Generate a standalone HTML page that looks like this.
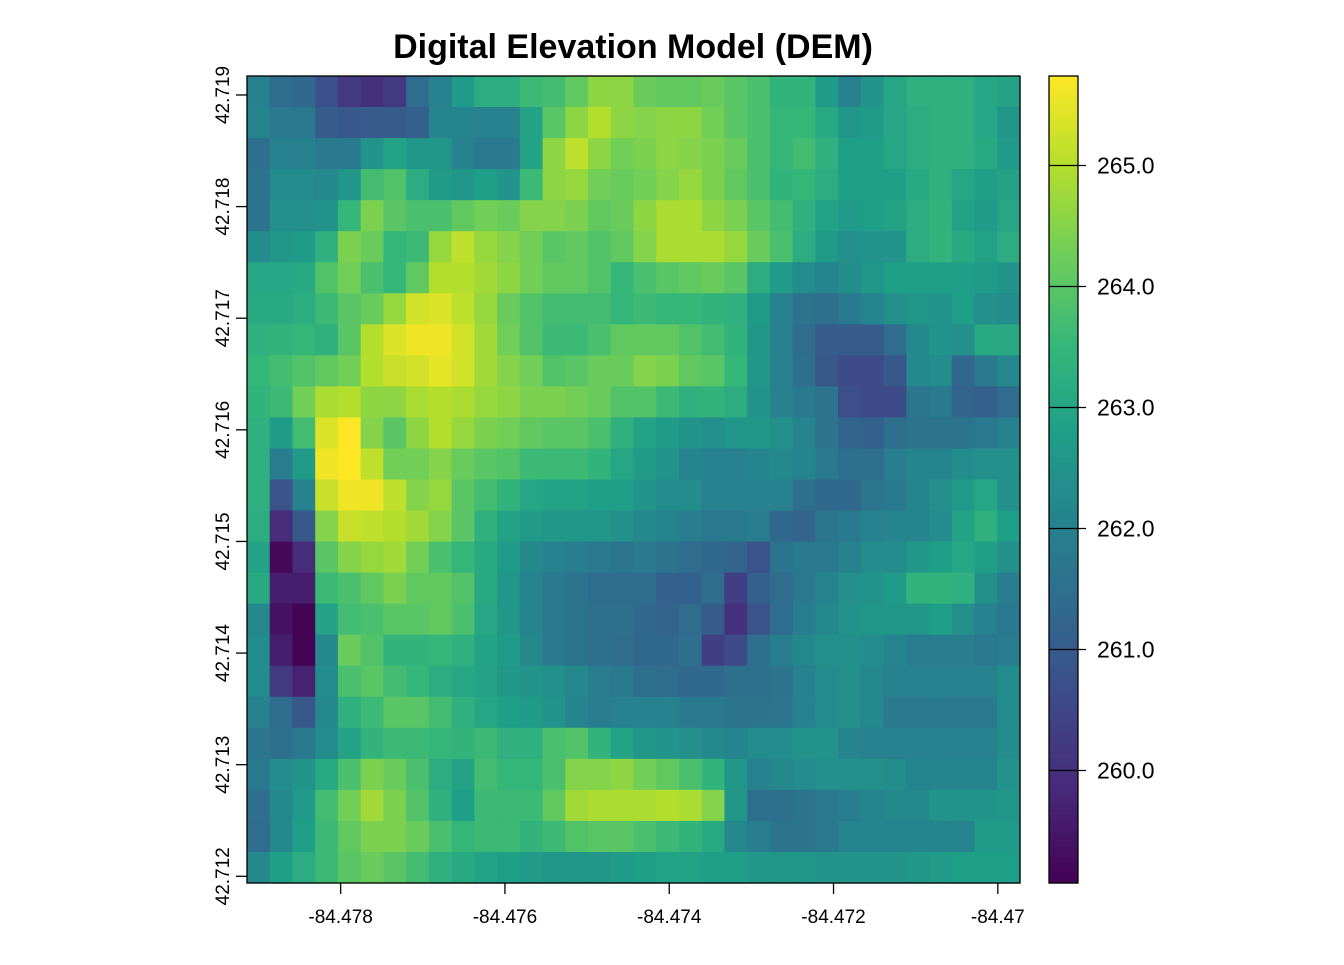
<!DOCTYPE html>
<html><head><meta charset="utf-8"><style>
body{margin:0;background:#fff;font-family:"Liberation Sans",Arial,sans-serif}
svg text{font-family:"Liberation Sans",Arial,sans-serif}
</style></head><body>
<svg id="chart" width="1344" height="960" xmlns="http://www.w3.org/2000/svg">
<rect width="1344" height="960" fill="#fff"/>
<text x="633" y="58" text-anchor="middle" font-size="34" font-weight="bold">Digital Elevation Model (DEM)</text>
<g id="cells"></g>
<rect x="247" y="76" width="773" height="807" fill="none" stroke="#000" stroke-width="1.3"/>
<g id="xaxis"></g>
<g id="yaxis"></g>
<g id="legend"></g>
</svg>
<script>
const xTicks=[-84.478,-84.476,-84.474,-84.472,-84.470];
const xTickLabels=["-84.478","-84.476","-84.474","-84.472","-84.47"];
const yTicks=[42.712,42.713,42.714,42.715,42.716,42.717,42.718,42.719];
const yTickLabels=["42.712","42.713","42.714","42.715","42.716","42.717","42.718","42.719"];
const legendTicks=[260,261,262,263,264,265];
const legendTickLabels=["260.0","261.0","262.0","263.0","264.0","265.0"];
const lonRange=[-84.47914,-84.46973];
const latRange=[42.71194,42.71917];
const valueRange=[259.07,265.74];
const elevation=[
[262.0,261.4,261.3,260.7,260.2,260.0,260.2,261.4,262.0,262.7,263.2,263.2,263.6,263.7,264.1,264.6,264.6,264.2,264.1,264.1,264.2,264.0,263.8,263.4,263.4,262.7,262.0,262.5,263.0,263.3,263.3,263.3,263.0,262.9],
[262.1,261.8,261.8,261.0,260.9,261.0,261.0,261.1,262.1,262.1,262.0,262.0,262.9,264.0,264.6,265.0,264.6,264.5,264.6,264.6,264.3,264.0,263.8,263.5,263.5,263.1,262.6,262.7,263.0,263.2,263.3,263.3,263.0,262.6],
[261.5,262.0,262.0,261.8,261.8,262.5,262.9,262.6,262.6,262.0,261.8,261.8,262.9,264.6,265.1,264.6,264.3,264.4,264.6,264.5,264.4,264.2,263.8,263.5,263.7,263.3,262.8,262.8,263.0,263.2,263.3,263.3,263.1,262.7],
[261.6,262.3,262.3,262.2,262.6,263.7,263.9,263.2,262.7,262.6,262.8,262.5,263.6,264.6,264.7,264.3,264.2,264.3,264.5,264.7,264.4,264.1,263.8,263.4,263.5,263.2,262.8,262.8,262.8,263.1,263.3,263.0,262.8,262.9],
[261.6,262.4,262.4,262.5,263.5,264.4,264.0,263.8,263.8,264.1,264.3,264.2,264.5,264.5,264.4,264.1,264.2,264.6,264.9,264.9,264.6,264.4,264.0,263.7,263.3,262.9,262.7,262.8,262.9,263.2,263.4,262.9,262.7,263.0],
[262.3,262.6,262.7,263.3,264.4,264.2,263.5,263.6,264.7,265.1,264.7,264.5,264.3,264.0,264.1,263.9,264.1,264.5,264.9,264.9,264.9,264.7,264.2,263.8,263.2,262.7,262.4,262.5,262.5,263.2,263.4,263.1,262.9,263.2],
[263.0,263.0,263.1,263.9,264.3,263.8,263.5,264.1,265.0,265.0,264.8,264.6,264.3,264.1,264.1,263.9,263.5,263.8,264.0,264.1,264.2,264.0,263.2,262.7,262.3,262.1,262.3,262.6,262.8,262.8,262.8,262.8,262.7,262.5],
[263.1,263.1,263.2,263.6,264.0,264.2,264.7,265.3,265.4,265.1,264.7,264.2,263.9,263.7,263.7,263.7,263.5,263.6,263.5,263.5,263.4,263.3,262.7,262.0,261.6,261.5,261.8,262.1,262.4,262.6,262.5,262.8,262.4,262.3],
[263.3,263.4,263.5,263.3,264.0,265.0,265.4,265.6,265.6,265.3,264.8,264.3,263.9,263.6,263.6,263.8,264.1,264.1,264.1,263.9,263.7,263.4,262.6,262.0,261.4,261.0,261.0,261.0,261.4,262.2,262.5,262.4,263.1,263.1],
[263.5,263.7,263.9,264.1,264.3,265.0,265.2,265.3,265.5,265.3,264.8,264.5,264.3,263.9,264.0,264.2,264.2,264.5,264.4,264.1,264.0,263.5,262.6,262.0,261.5,260.9,260.6,260.6,260.9,262.2,262.3,261.3,261.8,262.2],
[263.4,263.6,264.3,264.9,265.0,264.6,264.6,264.9,265.0,264.9,264.7,264.6,264.4,264.4,264.3,264.2,263.9,263.9,263.6,263.3,263.4,263.2,262.5,262.0,261.8,261.6,260.7,260.6,260.6,261.7,261.8,261.2,261.1,261.4],
[263.3,262.7,263.7,265.4,265.8,264.5,264.0,264.6,265.0,264.7,264.4,264.3,264.1,264.0,264.0,263.8,263.3,262.9,262.7,262.5,262.4,262.6,262.6,262.4,262.1,261.6,261.2,261.1,261.5,261.6,261.6,261.6,261.8,262.0],
[263.3,261.9,262.7,265.6,265.8,265.1,264.3,264.3,264.5,264.2,264.0,263.9,263.6,263.6,263.6,263.4,263.0,262.7,262.5,262.1,262.0,262.0,262.1,262.2,262.1,261.8,261.5,261.5,261.9,262.1,262.1,262.3,262.4,262.4],
[263.3,260.8,262.0,265.2,265.6,265.6,265.1,264.5,264.7,264.0,263.7,263.4,263.0,262.9,262.9,262.8,262.8,262.5,262.3,262.3,262.0,262.0,262.0,262.0,261.5,261.3,261.3,261.7,261.8,262.1,262.4,262.7,263.0,262.4],
[263.2,259.9,260.9,264.5,265.2,265.1,265.0,264.8,264.5,264.0,263.3,262.9,262.7,262.6,262.6,262.6,262.4,262.2,262.1,261.9,261.8,261.8,261.9,261.3,261.2,261.7,261.8,262.0,262.1,262.1,262.3,262.9,263.3,262.8],
[262.9,259.2,259.9,264.0,264.5,264.7,264.8,264.3,263.8,263.5,263.1,262.7,262.2,262.0,261.9,261.8,261.7,261.8,261.6,261.4,261.3,261.2,260.8,261.6,261.8,261.8,262.0,262.3,262.3,262.6,262.8,263.0,262.8,262.4],
[263.1,259.6,259.6,263.6,263.8,264.1,264.4,264.1,264.1,263.9,263.1,262.6,262.1,261.8,261.6,261.4,261.4,261.4,261.1,261.1,261.4,260.3,261.1,261.4,261.8,262.1,262.4,262.5,262.7,263.4,263.4,263.3,262.4,261.9],
[262.2,259.4,259.1,262.9,263.7,263.8,264.0,264.0,264.1,263.8,263.0,262.6,262.1,261.8,261.6,261.5,261.5,261.3,261.2,261.4,261.0,260.0,260.8,261.4,261.9,262.2,262.5,262.6,262.6,262.6,262.8,262.4,262.0,261.8],
[262.3,259.6,259.1,262.2,264.2,263.9,263.4,263.4,263.5,263.3,262.9,262.7,262.2,261.8,261.6,261.5,261.4,261.3,261.3,261.5,260.3,260.6,261.5,261.9,262.2,262.4,262.4,262.3,262.1,261.9,261.9,261.9,261.8,261.9],
[262.3,260.2,259.7,262.3,263.8,264.0,263.7,263.5,263.2,263.0,262.9,262.6,262.5,262.4,262.2,261.9,261.8,261.5,261.4,261.3,261.3,261.5,261.5,261.6,262.0,262.3,262.4,262.2,262.0,262.0,262.0,262.0,262.0,262.3],
[262.0,261.4,260.9,262.2,263.3,263.6,264.0,264.0,263.7,263.3,263.0,262.8,262.7,262.5,262.1,261.9,262.0,262.0,262.0,261.8,261.8,261.6,261.6,261.7,262.0,262.3,262.4,262.2,261.8,261.8,261.8,261.8,261.8,262.3],
[261.7,261.5,261.8,262.3,262.9,263.4,263.6,263.6,263.5,263.4,263.6,263.3,263.3,263.8,263.9,263.4,262.9,262.6,262.5,262.4,262.2,262.1,262.3,262.3,262.5,262.5,262.1,262.0,262.0,262.0,262.0,262.0,262.0,262.3],
[261.8,262.3,262.5,263.1,263.8,264.4,264.2,263.8,263.2,262.9,263.7,263.5,263.5,263.8,264.5,264.5,264.6,264.3,264.1,263.8,263.4,262.6,262.0,262.2,262.3,262.4,262.4,262.4,262.3,262.1,262.1,262.1,262.1,262.5],
[261.5,262.2,262.7,263.7,264.3,264.8,264.4,263.9,263.3,262.8,263.6,263.6,263.6,264.1,264.8,264.9,264.9,264.9,265.0,264.9,264.5,262.6,261.5,261.5,261.6,261.8,261.9,262.1,262.2,262.2,262.5,262.5,262.5,262.6],
[261.4,262.2,262.8,263.6,264.1,264.4,264.4,264.2,263.8,263.5,263.6,263.6,263.4,263.6,263.9,264.0,264.0,263.8,263.6,263.4,263.1,262.2,261.9,261.6,261.6,261.8,262.1,262.1,262.1,262.1,262.1,262.1,262.7,262.7],
[262.2,262.8,263.2,263.6,264.0,264.2,264.0,263.7,263.3,263.1,262.9,262.8,262.7,262.6,262.6,262.6,262.7,262.8,262.9,262.9,262.8,262.8,262.6,262.6,262.6,262.5,262.5,262.5,262.5,262.6,262.7,262.8,262.8,262.8]
];
const NS='http://www.w3.org/2000/svg';
const PX0=247,PX1=1020,PY0=76,PY1=883;
const VIR=[[68,1,84],[72,40,120],[62,73,137],[49,104,142],[38,130,142],[31,158,137],[53,183,121],[109,205,89],[180,222,44],[253,231,37]];
function viridis(t){t=Math.max(0,Math.min(1,t));const f=t*(VIR.length-1);const i=Math.min(VIR.length-2,Math.floor(f));const r=f-i;const a=VIR[i],b=VIR[i+1];
return 'rgb('+[0,1,2].map(k=>Math.round(a[k]+(b[k]-a[k])*r)).join(',')+')';}
function xScale(lon){return PX0+(lon-lonRange[0])/(lonRange[1]-lonRange[0])*(PX1-PX0);}
function yScale(lat){return PY1-(lat-latRange[0])/(latRange[1]-latRange[0])*(PY1-PY0);}
function cScale(v){return (v-valueRange[0])/(valueRange[1]-valueRange[0]);}
function mk(tag,attrs,parent){const e=document.createElementNS(NS,tag);for(const k in attrs)e.setAttribute(k,attrs[k]);parent.appendChild(e);return e;}
const nR=elevation.length,nC=elevation[0].length;
const dLon=(lonRange[1]-lonRange[0])/nC,dLat=(latRange[1]-latRange[0])/nR;
const cells=document.getElementById('cells');
elevation.forEach((row,r)=>row.forEach((v,c)=>{
const x0=xScale(lonRange[0]+c*dLon),x1=xScale(lonRange[0]+(c+1)*dLon);
const y0=yScale(latRange[1]-r*dLat),y1=yScale(latRange[1]-(r+1)*dLat);
const e=mk('rect',{x:x0,y:y0,width:x1-x0+0.6,height:y1-y0+0.6,fill:viridis(cScale(v))},cells);


}));
const xa=document.getElementById('xaxis');
xTicks.forEach((t,i)=>{const x=xScale(t);
const l=mk('line',{x1:x,x2:x,y1:PY1,y2:PY1+11,stroke:'#000','stroke-width':1.3},xa);


const tx=mk('text',{x:x,y:923,'text-anchor':'middle','font-size':19},xa);tx.textContent=xTickLabels[i];


});
const ya=document.getElementById('yaxis');
yTicks.forEach((t,i)=>{const y=yScale(t);
const l=mk('line',{x1:PX0-11,x2:PX0,y1:y,y2:y,stroke:'#000','stroke-width':1.3},ya);


const tx=mk('text',{x:229,y:y,'text-anchor':'middle','font-size':19,transform:'rotate(-90 229 '+y+')'},ya);tx.textContent=yTickLabels[i];


});
const lg=document.getElementById('legend');
const LX=1049,LW=29;
for(let k=0;k<200;k++){const y0=PY0+k*(PY1-PY0)/200;const v=valueRange[1]-(k+0.5)/200*(valueRange[1]-valueRange[0]);
mk('rect',{x:LX,y:y0,width:LW,height:(PY1-PY0)/200+0.6,fill:viridis(cScale(v))},lg);}
const lf=mk('rect',{x:LX,y:PY0,width:LW,height:PY1-PY0,fill:'none',stroke:'#000','stroke-width':1.3},lg);


legendTicks.forEach((t,i)=>{const y=PY1-cScale(t)*(PY1-PY0);
const l=mk('line',{x1:LX,x2:LX+LW+8,y1:y,y2:y,stroke:'#000','stroke-width':1.3},lg);


const tx=mk('text',{x:1097,y:y+8,'font-size':23},lg);tx.textContent=legendTickLabels[i];


});
</script>
</body></html>
